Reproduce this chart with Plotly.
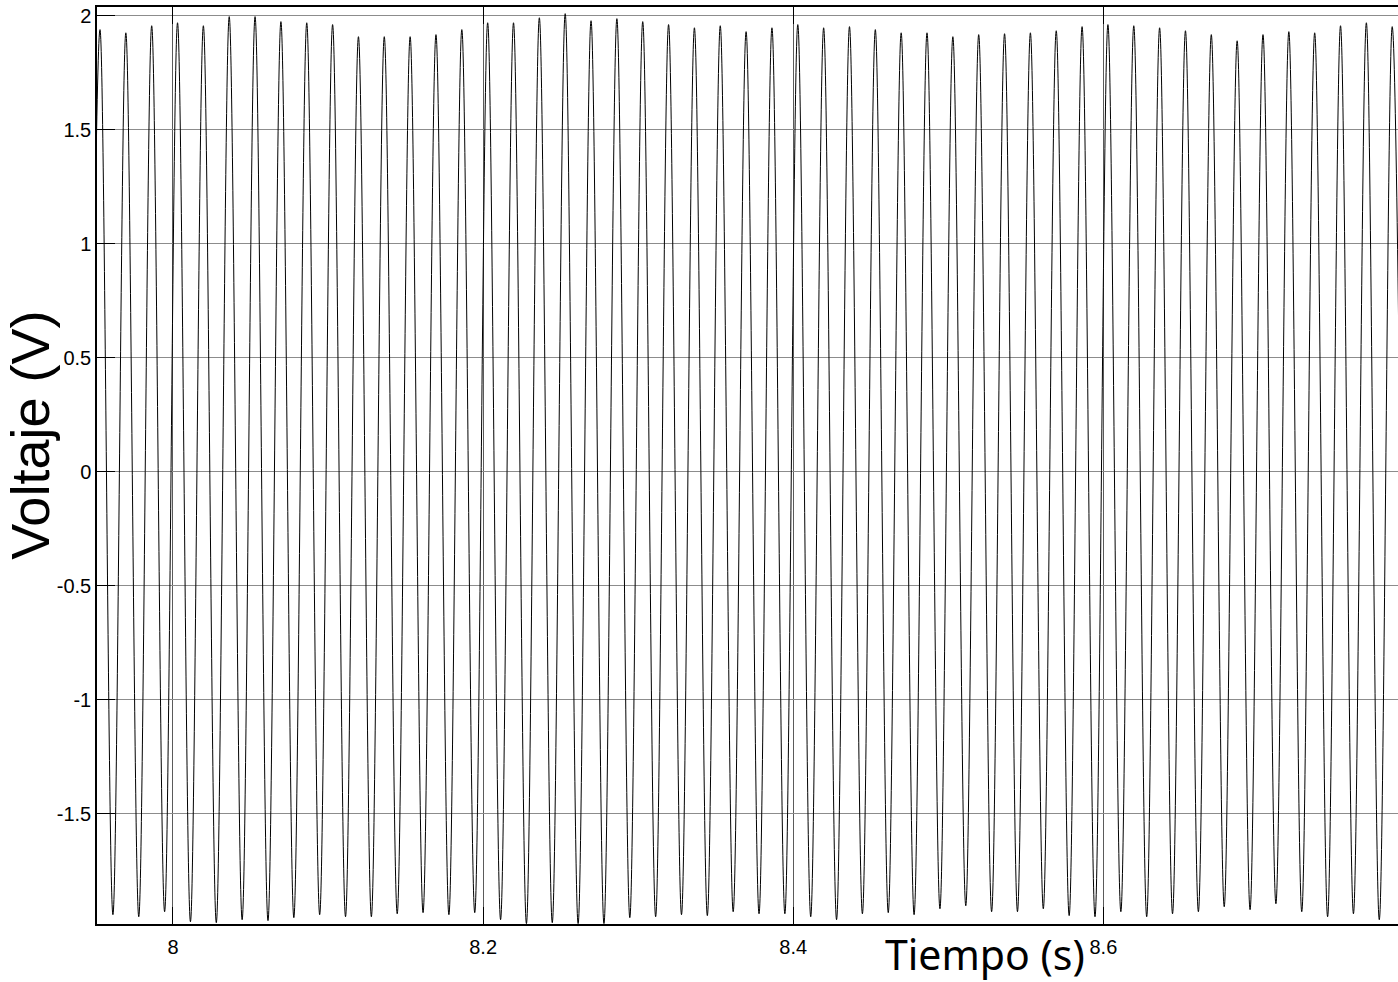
import plotly.graph_objects as go

# Sampled voltage waveform (60 Hz), described by the value of every crest and trough.
F_HZ = 60.0
T_FIRST_TROUGH = 7.9446          # time of the trough just before the first crest (s)

# Trough voltages, one per cycle, starting before the first crest (V)
TROUGHS = [
    -1.950,
    -1.943, -1.952, -1.930, -1.974, -1.978, -1.965, -1.969, -1.956, -1.943, -1.952,
    -1.952, -1.939, -1.934, -1.943, -1.934, -1.965, -1.982, -1.978, -1.982, -1.982,
    -1.956, -1.952, -1.943, -1.947, -1.930, -1.939, -1.939, -1.952, -1.965, -1.939,
    -1.934, -1.943, -1.917, -1.904, -1.930, -1.930, -1.917, -1.947, -1.952, -1.930,
    -1.952, -1.939, -1.930, -1.908, -1.921, -1.895, -1.930, -1.952, -1.939, -1.965,
    -1.956,
]

# Crest voltages, one per cycle (V)
PEAKS = [
    1.939, 1.925, 1.956, 1.969, 1.956, 1.996, 1.996, 1.974, 1.969, 1.961,
    1.908, 1.908, 1.908, 1.917, 1.939, 1.969, 1.969, 1.991, 2.009, 1.978,
    1.987, 1.974, 1.961, 1.947, 1.956, 1.930, 1.947, 1.961, 1.947, 1.952,
    1.939, 1.925, 1.925, 1.908, 1.917, 1.921, 1.925, 1.934, 1.952, 1.961,
    1.956, 1.947, 1.934, 1.917, 1.890, 1.917, 1.930, 1.925, 1.956, 1.969,
    1.952,
]

X_TICKS = [8.0, 8.2, 8.4, 8.6]
X_TICK_TEXT = ["8", "8.2", "8.4", "8.6"]
Y_TICKS = [-1.5, -1.0, -0.5, 0.0, 0.5, 1.0, 1.5, 2.0]
Y_TICK_TEXT = ["-1.5", "-1", "-0.5", "0", "0.5", "1", "1.5", "2"]

# Interleave troughs and crests; extremes are half a period apart
volts = []
for i, trough in enumerate(TROUGHS):
    volts.append(trough)
    if i < len(PEAKS):
        volts.append(PEAKS[i])
half_period = 0.5 / F_HZ
times = [T_FIRST_TROUGH + k * half_period for k in range(len(volts))]

fig = go.Figure()
fig.add_trace(go.Scatter(
    x=times, y=volts, mode="lines",
    line=dict(color="black", width=1, shape="spline", smoothing=1),
    hoverinfo="skip", showlegend=False,
))

tick_font = dict(family="Liberation Sans, Arial, sans-serif", size=20, color="black")

fig.update_layout(
    width=1398, height=982,
    margin=dict(l=97, r=0, t=7, b=58, pad=0),
    paper_bgcolor="white", plot_bgcolor="white",
    showlegend=False,
    xaxis=dict(
        range=[7.951, 8.790],
        tickmode="array", tickvals=X_TICKS, ticktext=X_TICK_TEXT,
        ticks="inside", ticklen=17, tickwidth=1, tickcolor="black",
        showline=True, linecolor="black", linewidth=1.5, mirror="ticks",
        showgrid=True, gridcolor="#5a5a5a", gridwidth=1,
        zeroline=False, tickfont=tick_font, ticklabelstandoff=4,
    ),
    yaxis=dict(
        range=[-1.9838, 2.0382],
        tickmode="array", tickvals=Y_TICKS, ticktext=Y_TICK_TEXT,
        ticks="inside", ticklen=18, tickwidth=1, tickcolor="black",
        showline=True, linecolor="black", linewidth=1.5, mirror=False,
        showgrid=True, gridcolor="#8c8c8c", gridwidth=1,
        zeroline=False, tickfont=tick_font,
    ),
    annotations=[
        dict(text="Voltaje (V)", xref="paper", yref="paper",
             x=-0.0515, y=0.5336, xanchor="center", yanchor="middle",
             textangle=-90, showarrow=False,
             font=dict(family="Liberation Sans, Arial, sans-serif", size=54, color="black")),
        dict(text="Tiempo (s)", xref="paper", yref="paper",
             x=0.6826, y=0.0005, xanchor="center", yanchor="top",
             showarrow=False,
             font=dict(family="Noto Sans, Open Sans, sans-serif", size=41, color="black")),
    ],
)

fig.write_html("out.html")
